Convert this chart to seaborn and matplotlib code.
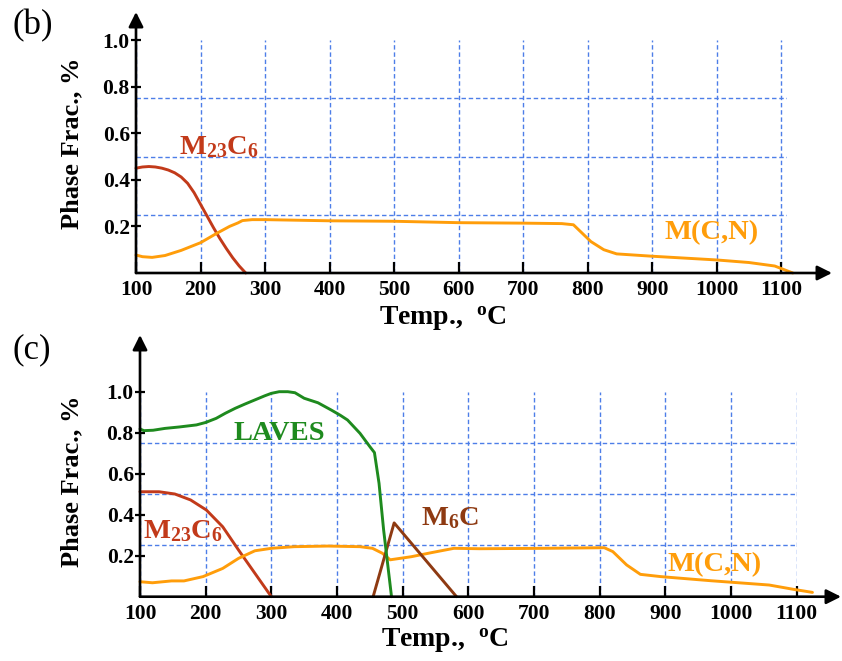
import numpy as np
import pandas as pd
import matplotlib
matplotlib.use("Agg")
import matplotlib.pyplot as plt
import seaborn as sns
from matplotlib.ticker import FixedLocator

# ---------------- data ----------------
x_ticks = [100, 200, 300, 400, 500, 600, 700, 800, 900, 1000, 1100]
y_ticks = [0.2, 0.4, 0.6, 0.8, 1.0]
y_grid = [0.25, 0.5, 0.75, 1.0]

# panel (b)
b_m23c6_T = [100, 110, 120, 130, 140, 150, 160, 170, 180, 190, 200, 210, 220, 230, 240,
             250, 260, 270]
b_m23c6_v = [0.450, 0.455, 0.457, 0.455, 0.450, 0.442, 0.430, 0.412, 0.385, 0.345, 0.295,
             0.245, 0.195, 0.148, 0.105, 0.065, 0.030, 0.0]

b_mcn_T = [100, 110, 125, 145, 170, 200, 225, 245, 258, 265, 280, 300, 400, 500, 600, 700,
           760, 778, 790, 805, 825, 845, 900, 1000, 1050, 1090, 1118]
b_mcn_v = [0.077, 0.070, 0.067, 0.075, 0.097, 0.130, 0.170, 0.200, 0.215, 0.225, 0.229, 0.229,
           0.224, 0.222, 0.216, 0.214, 0.212, 0.207, 0.175, 0.135, 0.100, 0.082, 0.072, 0.056,
           0.045, 0.030, 0.0]

# panel (c)
c_laves_T = [100, 106, 120, 138, 160, 186, 200, 216, 230, 245, 260, 275, 290, 300, 312, 325,
             336, 350, 371, 391, 405, 416, 435, 450, 457, 464, 471, 483]
c_laves_v = [0.818, 0.810, 0.812, 0.821, 0.828, 0.838, 0.850, 0.870, 0.895, 0.919, 0.940, 0.960,
             0.980, 0.992, 1.0, 1.0, 0.995, 0.968, 0.946, 0.911, 0.885, 0.862, 0.797, 0.732,
             0.703, 0.553, 0.325, 0.0]

c_m23c6_T = [100, 129, 153, 177, 201, 226, 250, 275, 300]
c_m23c6_v = [0.512, 0.512, 0.501, 0.472, 0.423, 0.341, 0.228, 0.114, 0.0]

c_m6c_T = [455, 487, 582]
c_m6c_v = [0.0, 0.360, 0.0]

c_mcn_T = [100, 119, 148, 167, 196, 226, 250, 275, 300, 335, 386, 435, 454, 469, 481, 513,
           544, 578, 617, 717, 807, 820, 841, 862, 893, 969, 1058, 1095, 1124]
c_mcn_v = [0.073, 0.068, 0.077, 0.077, 0.098, 0.138, 0.187, 0.224, 0.236, 0.244, 0.247, 0.244,
           0.236, 0.212, 0.180, 0.195, 0.215, 0.236, 0.234, 0.236, 0.239, 0.220, 0.155, 0.109,
           0.098, 0.078, 0.057, 0.036, 0.021]

# ---------------- style ----------------
sns.set_theme(style="white")
plt.rcParams["font.family"] = ["Liberation Serif", "DejaVu Serif"]
plt.rcParams["font.weight"] = "bold"
plt.rcParams["mathtext.fontset"] = "custom"
plt.rcParams["mathtext.rm"] = "Liberation Serif:bold"
plt.rcParams["mathtext.bf"] = "Liberation Serif:bold"
plt.rcParams["mathtext.it"] = "Liberation Serif:bold"
plt.rcParams["mathtext.default"] = "rm"

RED = "#C23A1A"
ORANGE = "#FF9D0A"
GREEN = "#1E8A1E"
BROWN = "#8E3A12"
GRID = "#4D7EE8"

fig = plt.figure(figsize=(8.42, 6.61), dpi=100)
fig.patch.set_facecolor("white")


def draw_curve(ax, T, v, color):
    df = pd.DataFrame({"T": T, "v": v})
    sns.lineplot(data=df, x="T", y="v", ax=ax, color=color, lw=2.1,
                 estimator=None, sort=False)


def style_axes(ax, xmax, xtip, ytip, xlab_xy, ylab_xy):
    ax.set_facecolor("white")
    ax.set_xlim(100, xmax)
    ax.set_ylim(0, 1.0)
    for s in ax.spines.values():
        s.set_visible(False)
    ax.xaxis.set_major_locator(FixedLocator(x_ticks))
    ax.yaxis.set_major_locator(FixedLocator(y_ticks))
    ax.yaxis.set_minor_locator(FixedLocator(y_grid))
    ax.set_xticklabels([str(t) for t in x_ticks])
    ax.set_yticklabels([f"{t:.1f}" for t in y_ticks])
    ax.tick_params(axis="x", direction="in", length=8, width=1.6, pad=5,
                   labelsize=15.5, colors="black", bottom=True)
    ax.tick_params(axis="y", which="major", direction="inout", length=7, width=1.6,
                   pad=1, labelsize=15.5, colors="black", left=True)
    ax.tick_params(axis="y", which="minor", length=0)
    ax.grid(False)
    ax.xaxis.grid(True, which="major", color=GRID, ls=(0, (3.2, 2.0)), lw=1.0)
    ax.yaxis.grid(True, which="minor", color=GRID, ls=(0, (3.2, 2.0)), lw=1.0)
    ax.set_axisbelow(True)
    for lbl in ax.get_xticklabels() + ax.get_yticklabels():
        lbl.set_fontweight("bold")
    # axis arrows
    arrow = dict(arrowstyle="-|>", lw=1.9, color="black", mutation_scale=22,
                 shrinkA=0, shrinkB=0)
    ax.annotate("", xy=(xtip, 0), xytext=(0, 0), xycoords="axes fraction",
                textcoords="axes fraction", arrowprops=arrow, annotation_clip=False)
    ax.annotate("", xy=(0, ytip), xytext=(0, 0), xycoords="axes fraction",
                textcoords="axes fraction", arrowprops=arrow, annotation_clip=False)
    ax.set_xlabel(r"Temp.,  $^{o}$C", fontsize=20, fontweight="bold", color="black")
    ax.xaxis.set_label_coords(*xlab_xy)
    ax.set_ylabel("Phase Frac., %", fontsize=19, fontweight="bold", color="black",
                  va="center")
    ax.yaxis.set_label_coords(*ylab_xy)
    for ln in ax.lines:
        ln.set_clip_on(False)


# ---------------- panel (b) ----------------
axb = fig.add_axes([136 / 842, 1 - 273 / 661, 651 / 842, 233 / 661])
draw_curve(axb, b_m23c6_T, b_m23c6_v, RED)
draw_curve(axb, b_mcn_T, b_mcn_v, ORANGE)
style_axes(axb, 1109, (832 - 136) / 651, (273 - 12) / 233,
           ((443 - 136) / 651, -0.135), ((72 - 136) / 651, 0.558))
axb.text(166, 0.51, r"M$_{23}$C$_{6}$", color=RED, fontsize=20.5, fontweight="bold",
         ha="left", va="baseline")
axb.text(919, 0.145, "M(C,N)", color=ORANGE, fontsize=20.5, fontweight="bold",
         ha="left", va="baseline")

# ---------------- panel (c) ----------------
axc = fig.add_axes([140 / 842, 1 - 596.7 / 661, 656.7 / 842, 205 / 661])
draw_curve(axc, c_m23c6_T, c_m23c6_v, RED)
draw_curve(axc, c_mcn_T, c_mcn_v, ORANGE)
draw_curve(axc, c_m6c_T, c_m6c_v, BROWN)
draw_curve(axc, c_laves_T, c_laves_v, GREEN)
style_axes(axc, 1100, (841 - 140) / 656.7, (596.7 - 335) / 205,
           ((445 - 140) / 656.7, -0.145), ((72 - 140) / 656.7, 0.564))
axc.text(243, 0.764, "LAVES", color=GREEN, fontsize=20.5, fontweight="bold",
         ha="left", va="baseline")
axc.text(105, 0.285, r"M$_{23}$C$_{6}$", color=RED, fontsize=20.5, fontweight="bold",
         ha="left", va="baseline")
axc.text(528, 0.35, r"M$_{6}$C", color=BROWN, fontsize=20.5, fontweight="bold",
         ha="left", va="baseline")
axc.text(904, 0.127, "M(C,N)", color=ORANGE, fontsize=20.5, fontweight="bold",
         ha="left", va="baseline")

# panel letters
fig.text(13 / 842, 1 - 9 / 661, "(b)", fontsize=25, fontweight="normal",
         ha="left", va="top", color="black")
fig.text(13 / 842, 1 - 333 / 661, "(c)", fontsize=25, fontweight="normal",
         ha="left", va="top", color="black")

fig.savefig("out.png", dpi=100, facecolor="white")
